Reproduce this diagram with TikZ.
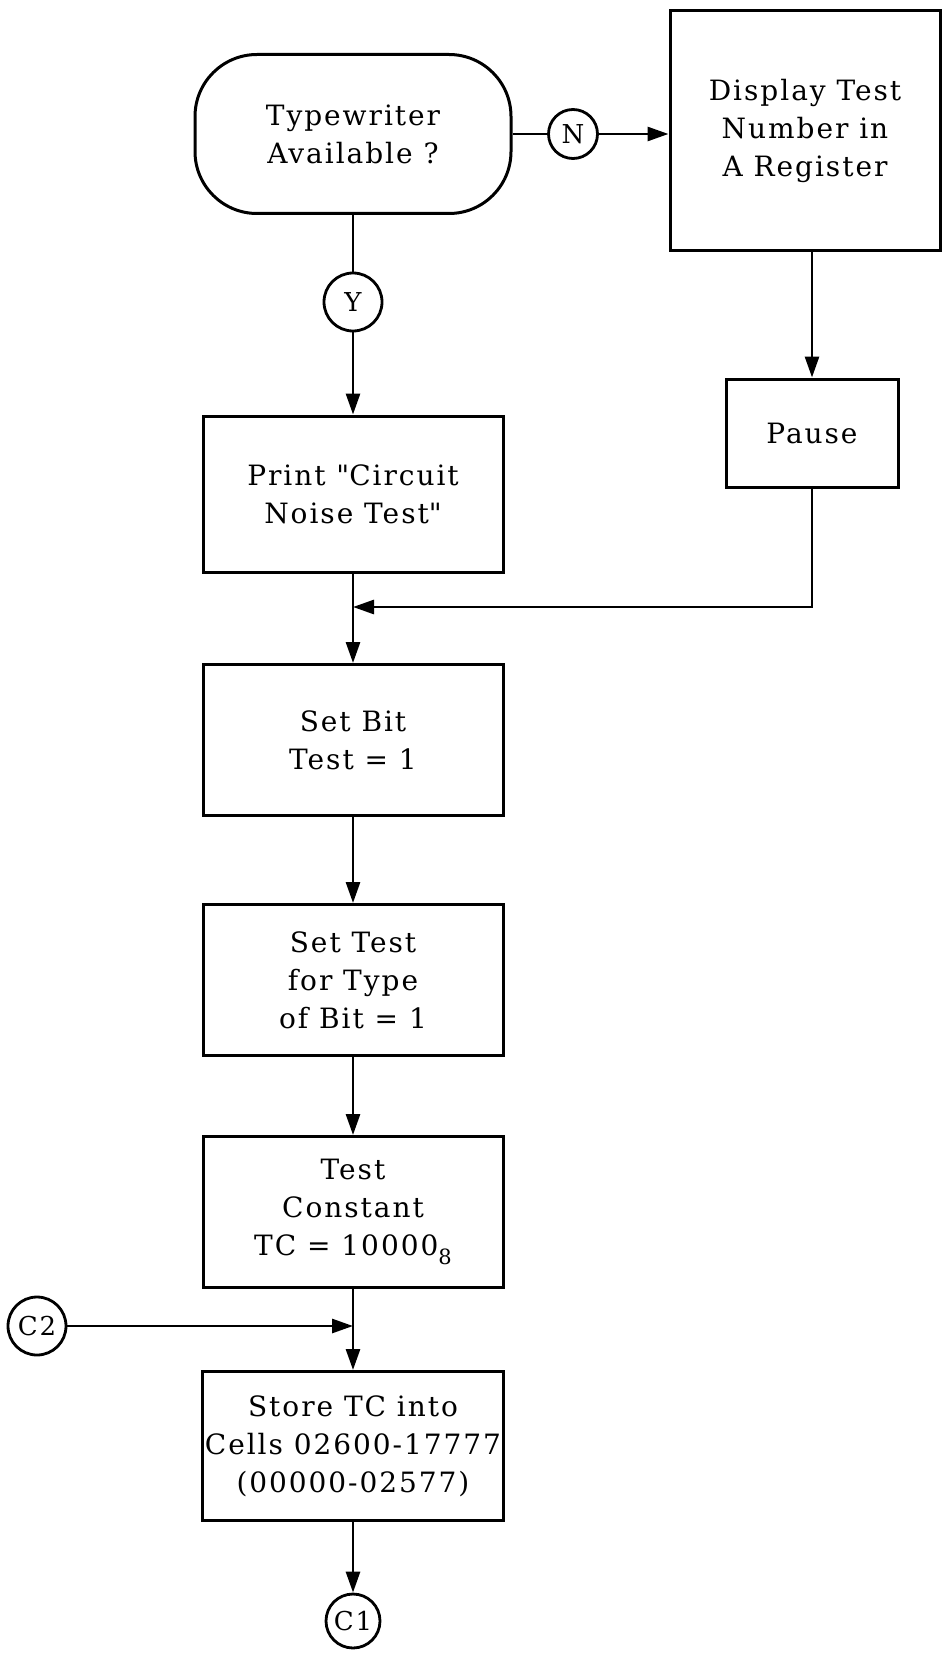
\documentclass[tikz,border=0pt]{standalone}
\usepackage{fontspec}
\setmainfont{DejaVu Serif}[LetterSpace=7]
\usetikzlibrary{positioning,arrows.meta}

\begin{document}
\begin{tikzpicture}[
    x=1pt, y=-1pt,
    box/.style={
        draw,
        line width=3pt,
        minimum width=300pt,
        minimum height=151pt,
        align=center,
        font=\fontsize{28}{38}\selectfont,
        inner sep=2pt
    },
    term/.style={
        box,
        rounded corners=62pt,
        minimum width=316pt,
        minimum height=159pt
    },
    conn/.style={
        circle,
        draw,
        line width=2.8pt,
        minimum size=54pt,
        inner sep=0pt,
        font=\fontsize{26}{26}\selectfont
    },
    arr/.style={
        -{Triangle[length=21pt,width=14pt]},
        line width=2.8pt
    },
    wire/.style={
        line width=2.8pt
    }
]
\useasboundingbox (0,0) rectangle (943,1661);

% ============================================================
% TOP — DECISION AND NO BRANCH
% ============================================================

\node[term] (avail) at (353,134)
{Typewriter\\Available ?};

\node[conn, minimum size=49pt] (nconn) at (573,134) {N};

\node[box, minimum width=270pt, minimum height=240pt] (display) at (805,131)
{Display Test\\Number in\\A Register};

\node[box, minimum width=172pt, minimum height=108pt] (pause) at (812,433)
{Pause};

\node[conn, minimum size=58pt] (yconn) at (353,302) {Y};

% ============================================================
% MAIN COLUMN
% ============================================================

\node[box, minimum height=156pt] (printhdr) at (353,494)
{Print \textquotedbl Circuit\\Noise Test\textquotedbl};

\node[box] (setbit) at (353,740)
{Set Bit\\Test = 1};

\node[box] (settype) at (353,980)
{Set Test\\for Type\\of Bit = 1};

\node[box] (tconst) at (353,1212)
{Test\\Constant\\TC = 10000\raisebox{-9pt}{\fontsize{21}{21}\selectfont 8}};

\node[box, minimum width=298pt, minimum height=149pt] (store) at (353,1446)
{Store TC into\\Cells 02600-17777\\(00000-02577)};

\node[conn, minimum size=58pt] (cconn2) at (37,1326) {C2};
\node[conn] (cconn1) at (353,1621) {C1};

\coordinate (merge) at (353,607);
\coordinate (join) at (353,1326);

% Arrows
\draw[wire] (avail) -- (nconn);
\draw[arr] (nconn) -- (nconn -| display.west);
\draw[arr] (display.south -| pause) -- (pause);
\draw[wire] (avail) -- (yconn);
\draw[arr] (yconn) -- (printhdr);
\draw[arr] (pause.south) |- (merge);
\draw[arr] (printhdr) -- (setbit);
\draw[arr] (setbit) -- (settype);
\draw[arr] (settype) -- (tconst);
\draw[arr] (cconn2) -- (join);
\draw[arr] (tconst) -- (store);
\draw[arr] (store) -- (cconn1);

\end{tikzpicture}
\end{document}
